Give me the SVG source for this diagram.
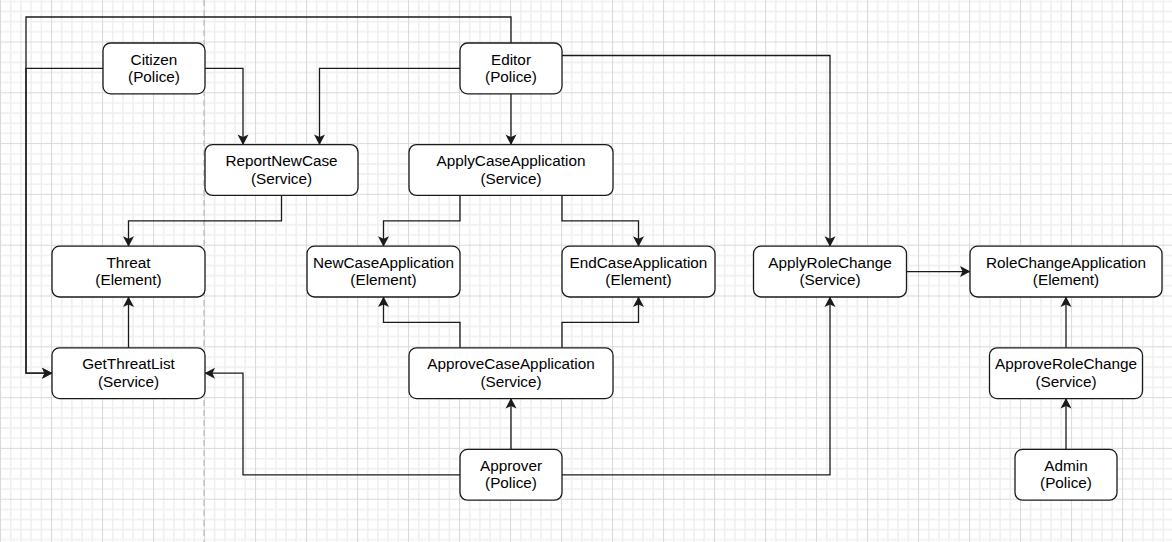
<svg xmlns="http://www.w3.org/2000/svg" width="1172" height="542" viewBox="0 0 1172 542">
<style>
.node rect{fill:#ffffff;stroke:#1a1a1a;stroke-width:1.3}
.node text{font-family:"Liberation Sans",Arial,Helvetica,sans-serif;font-size:15.3px;fill:#000;text-anchor:middle}
#connectors path{fill:none;stroke:#1a1a1a;stroke-width:1.3;stroke-linejoin:miter;marker-end:url(#arrow)}
</style>
<defs>
<pattern id="grid" patternUnits="userSpaceOnUse" x="0" y="-9.3" width="51" height="50.8">
<path d="M10.7 0V50.8M20.9 0V50.8M31.1 0V50.8M41.3 0V50.8M0 10.66H51M0 20.82H51M0 30.98H51M0 41.14H51" stroke="#f0f0f0" stroke-width="1.6"/>
<path d="M0.5 0V50.8M0 0.5H51" stroke="#dadada" stroke-width="1.2"/>
</pattern>
<marker id="arrow" viewBox="0 0 12 12" refX="10.5" refY="6" markerWidth="12" markerHeight="12" markerUnits="userSpaceOnUse" orient="auto">
<path d="M0.5 0.5L11 6L0.5 11.5L3 6Z" fill="#1a1a1a" stroke="none"/>
</marker>
</defs>
<rect x="0" y="0" width="1172" height="542" fill="#ffffff"/>
<rect x="0" y="0" width="1172" height="542" fill="url(#grid)"/>
<line x1="204" y1="0" x2="204" y2="542" stroke="#bdbdbd" stroke-width="1.3" stroke-dasharray="6 4"/>

<g id="connectors">
<path d="M511 43V17H26V373.2H52"/>
<path d="M103 68.4H26V373.2H52"/>
<path d="M205 68.4H243V144.6"/>
<path d="M460 68.4H319.5V144.6"/>
<path d="M511 94V144.6"/>
<path d="M562 55.5H830V246.2"/>
<path d="M281.5 195.4V220.8H128.5V246.2"/>
<path d="M460 195.4V220.8H383.5V246.2"/>
<path d="M562 195.4V220.8H638.5V246.2"/>
<path d="M460 347.8V322.4H383.5V297"/>
<path d="M562 347.8V322.4H638.5V297"/>
<path d="M128.5 347.8V297"/>
<path d="M511 449.4V398.6"/>
<path d="M460 474.8H243V373.2H205"/>
<path d="M562 474.8H830V297"/>
<path d="M906 271.6H970"/>
<path d="M1066 347.8V297"/>
<path d="M1066 449.4V398.6"/>
</g>

<g id="citizen" class="node"><rect x="103" y="43" width="102" height="50.8" rx="7.5"/><text x="154" y="64.5">Citizen</text><text x="154" y="82">(Police)</text></g>
<g id="editor" class="node"><rect x="460" y="43" width="102" height="50.8" rx="7.5"/><text x="511" y="64.5">Editor</text><text x="511" y="82">(Police)</text></g>
<g id="reportNewCase" class="node"><rect x="205" y="144.6" width="153" height="50.8" rx="7.5"/><text x="281.5" y="166.1">ReportNewCase</text><text x="281.5" y="183.6">(Service)</text></g>
<g id="applyCaseApplication" class="node"><rect x="409" y="144.6" width="204" height="50.8" rx="7.5"/><text x="511" y="166.1">ApplyCaseApplication</text><text x="511" y="183.6">(Service)</text></g>
<g id="threat" class="node"><rect x="52" y="246.2" width="153" height="50.8" rx="7.5"/><text x="128.5" y="267.7">Threat</text><text x="128.5" y="285.2">(Element)</text></g>
<g id="newCaseApplication" class="node"><rect x="307" y="246.2" width="153" height="50.8" rx="7.5"/><text x="383.5" y="267.7">NewCaseApplication</text><text x="383.5" y="285.2">(Element)</text></g>
<g id="endCaseApplication" class="node"><rect x="562" y="246.2" width="153" height="50.8" rx="7.5"/><text x="638.5" y="267.7">EndCaseApplication</text><text x="638.5" y="285.2">(Element)</text></g>
<g id="applyRoleChange" class="node"><rect x="753.5" y="246.2" width="153" height="50.8" rx="7.5"/><text x="830" y="267.7">ApplyRoleChange</text><text x="830" y="285.2">(Service)</text></g>
<g id="roleChangeApplication" class="node"><rect x="970" y="246.2" width="192" height="50.8" rx="7.5"/><text x="1066" y="267.7">RoleChangeApplication</text><text x="1066" y="285.2">(Element)</text></g>
<g id="getThreatList" class="node"><rect x="52" y="347.8" width="153" height="50.8" rx="7.5"/><text x="128.5" y="369.3">GetThreatList</text><text x="128.5" y="386.8">(Service)</text></g>
<g id="approveCaseApplication" class="node"><rect x="409" y="347.8" width="204" height="50.8" rx="7.5"/><text x="511" y="369.3">ApproveCaseApplication</text><text x="511" y="386.8">(Service)</text></g>
<g id="approveRoleChange" class="node"><rect x="989.5" y="347.8" width="153" height="50.8" rx="7.5"/><text x="1066" y="369.3">ApproveRoleChange</text><text x="1066" y="386.8">(Service)</text></g>
<g id="approver" class="node"><rect x="460" y="449.4" width="102" height="50.8" rx="7.5"/><text x="511" y="470.9">Approver</text><text x="511" y="488.4">(Police)</text></g>
<g id="admin" class="node"><rect x="1015" y="449.4" width="102" height="50.8" rx="7.5"/><text x="1066" y="470.9">Admin</text><text x="1066" y="488.4">(Police)</text></g>
</svg>
